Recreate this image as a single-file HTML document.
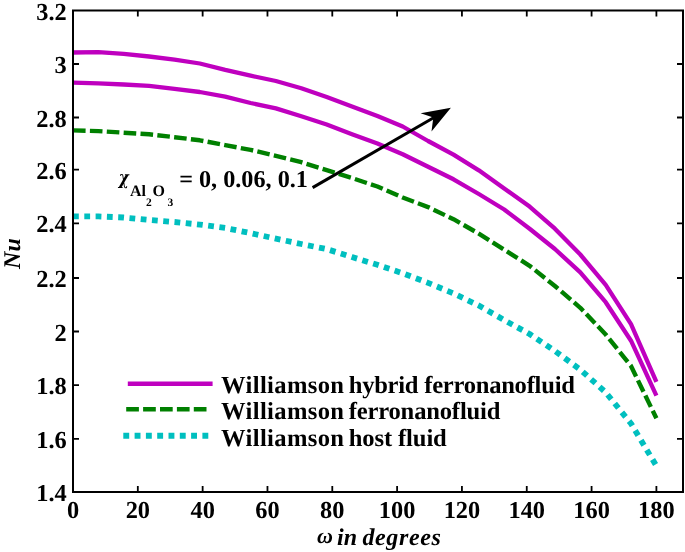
<!DOCTYPE html><html><head><meta charset="utf-8"><style>html,body{margin:0;padding:0;background:#fff;overflow:hidden}svg{display:block}text{text-rendering:geometricPrecision}</style></head><body>
<svg width="685" height="552" viewBox="0 0 685 552">
<rect width="685" height="552" fill="#fff"/>
<g fill="none" stroke-linejoin="round">
<polyline points="73.0,216.4 98.4,216.4 123.7,217.5 149.1,219.9 174.5,222.0 199.8,224.6 225.2,228.0 250.6,233.1 275.9,238.7 301.3,244.0 326.7,249.1 352.0,257.1 377.4,264.8 402.7,273.3 428.1,282.9 453.5,293.4 478.8,305.5 504.2,320.1 529.6,334.0 554.9,351.0 580.3,369.6 605.7,392.4 631.0,423.5 656.4,466.0" stroke="#00bfbf" stroke-width="5.8" stroke-dasharray="5.8 5.5"/>
<polyline points="73.0,130.4 98.4,131.1 123.7,132.7 149.1,134.3 174.5,137.2 199.8,140.3 225.2,145.1 250.6,149.9 275.9,155.8 301.3,162.2 326.7,170.2 352.0,178.0 377.4,186.5 402.7,197.5 428.1,207.1 453.5,219.2 478.8,233.6 504.2,249.7 529.6,265.8 554.9,286.0 580.3,307.8 605.7,334.5 631.0,366.0 656.4,418.3" stroke="#008000" stroke-width="4.4" stroke-dasharray="12.6 4.3"/>
<polyline points="73.0,82.6 98.4,83.4 123.7,84.5 149.1,85.8 174.5,88.8 199.8,92.0 225.2,96.6 250.6,103.0 275.9,108.4 301.3,116.2 326.7,124.5 352.0,134.2 377.4,143.6 402.7,154.2 428.1,166.7 453.5,179.3 478.8,194.0 504.2,209.5 529.6,228.8 554.9,249.0 580.3,272.4 605.7,302.2 631.0,340.7 656.4,395.6" stroke="#bf00bf" stroke-width="4.3"/>
<polyline points="73.0,52.5 98.4,52.2 123.7,53.8 149.1,56.5 174.5,59.6 199.8,63.5 225.2,69.9 250.6,75.7 275.9,81.0 301.3,88.3 326.7,97.0 352.0,106.4 377.4,116.0 402.7,126.5 428.1,141.0 453.5,154.6 478.8,170.3 504.2,188.5 529.6,206.6 554.9,228.7 580.3,254.5 605.7,284.8 631.0,324.2 656.4,381.8" stroke="#bf00bf" stroke-width="4.3"/>
</g>
<path d="M137.82,492.0V486.0M137.82,10.5V16.5M202.64,492.0V486.0M202.64,10.5V16.5M267.47,492.0V486.0M267.47,10.5V16.5M332.29,492.0V486.0M332.29,10.5V16.5M397.11,492.0V486.0M397.11,10.5V16.5M461.93,492.0V486.0M461.93,10.5V16.5M526.76,492.0V486.0M526.76,10.5V16.5M591.58,492.0V486.0M591.58,10.5V16.5M656.40,492.0V486.0M656.40,10.5V16.5M73.0,438.8H79.0M683.0,438.8H677.0M73.0,385.2H79.0M683.0,385.2H677.0M73.0,331.5H79.0M683.0,331.5H677.0M73.0,278.0H79.0M683.0,278.0H677.0M73.0,223.3H79.0M683.0,223.3H677.0M73.0,169.65H79.0M683.0,169.65H677.0M73.0,117.5H79.0M683.0,117.5H677.0M73.0,64.0H79.0M683.0,64.0H677.0" stroke="#000" stroke-width="1.8" fill="none"/>
<rect x="73.0" y="10.5" width="610.0" height="481.5" fill="none" stroke="#000" stroke-width="2"/>
<g font-family="Liberation Serif, Times New Roman, serif" font-weight="bold" font-size="24.4" fill="#000"><text transform="translate(73.00,517.9) scale(1,1.0)" text-anchor="middle">0</text><text transform="translate(137.82,517.9) scale(1,1.0)" text-anchor="middle">20</text><text transform="translate(202.64,517.9) scale(1,1.0)" text-anchor="middle">40</text><text transform="translate(267.47,517.9) scale(1,1.0)" text-anchor="middle">60</text><text transform="translate(332.29,517.9) scale(1,1.0)" text-anchor="middle">80</text><text transform="translate(397.11,517.9) scale(1,1.0)" text-anchor="middle">100</text><text transform="translate(461.93,517.9) scale(1,1.0)" text-anchor="middle">120</text><text transform="translate(526.76,517.9) scale(1,1.0)" text-anchor="middle">140</text><text transform="translate(591.58,517.9) scale(1,1.0)" text-anchor="middle">160</text><text transform="translate(656.40,517.9) scale(1,1.0)" text-anchor="middle">180</text><text transform="translate(66.8,501.1) scale(1,1.0)" text-anchor="end">1.4</text><text transform="translate(66.8,447.9) scale(1,1.0)" text-anchor="end">1.6</text><text transform="translate(66.8,394.3) scale(1,1.0)" text-anchor="end">1.8</text><text transform="translate(66.8,340.6) scale(1,1.0)" text-anchor="end">2</text><text transform="translate(66.8,287.1) scale(1,1.0)" text-anchor="end">2.2</text><text transform="translate(66.8,232.4) scale(1,1.0)" text-anchor="end">2.4</text><text transform="translate(66.8,178.8) scale(1,1.0)" text-anchor="end">2.6</text><text transform="translate(66.8,126.6) scale(1,1.0)" text-anchor="end">2.8</text><text transform="translate(66.8,73.1) scale(1,1.0)" text-anchor="end">3</text><text transform="translate(66.8,19.6) scale(1,1.0)" text-anchor="end">3.2</text></g>
<g font-family="Liberation Serif, Times New Roman, serif" font-weight="bold" font-style="italic" font-size="24"><text x="317" y="542.8" font-size="22">ω</text><text x="337" y="544.8">in</text><text x="362.5" y="544.8" textLength="78.3" lengthAdjust="spacing">degrees</text></g>
<text transform="translate(20,253.6) rotate(-90)" text-anchor="middle" font-family="Liberation Serif, Times New Roman, serif" font-weight="bold" font-style="italic" font-size="24">Nu</text>
<line x1="127.8" y1="383.8" x2="212.6" y2="383.8" stroke="#bf00bf" stroke-width="4.4"/>
<line x1="126.2" y1="409.3" x2="207.2" y2="409.3" stroke="#008000" stroke-width="4.5" stroke-dasharray="12.7 4.2"/>
<line x1="123.3" y1="435.8" x2="209" y2="435.8" stroke="#00bfbf" stroke-width="6" stroke-dasharray="5.9 5.4"/>
<g font-family="Liberation Serif, Times New Roman, serif" font-weight="bold" font-size="24.6" fill="#000" style="font-variant-ligatures:none"><text x="221" y="392.6" textLength="123.0" lengthAdjust="spacing">Williamson</text><text x="348.7" y="392.6" textLength="226.2" lengthAdjust="spacing">hybrid ferronanofluid</text><text x="221" y="419.3" textLength="123.0" lengthAdjust="spacing">Williamson</text><text x="348.7" y="419.3" textLength="151.7" lengthAdjust="spacing">ferronanofluid</text><text x="221" y="446.3" textLength="123.0" lengthAdjust="spacing">Williamson</text><text x="348.7" y="446.3" textLength="98.1" lengthAdjust="spacing">host fluid</text></g>
<g font-family="Liberation Serif, Times New Roman, serif" font-weight="bold" fill="#000"><text transform="translate(118.8,184.3) scale(0.8,1)" font-family="DejaVu Serif, serif" font-weight="bold" font-style="italic" font-size="19">χ</text><text x="130" y="195.7" font-size="16">Al</text><text x="146" y="205.9" font-size="11.5">2</text><text x="152.5" y="195.7" font-size="16">O</text><text x="167.5" y="205.9" font-size="11.5">3</text><text transform="translate(179.2,187.4)" font-size="24.2">= 0, 0.06, 0.1</text></g>
<line x1="312.6" y1="187.6" x2="434" y2="117.5" stroke="#000" stroke-width="3"/>
<polygon points="450.9,107.7 420.6,113.3 433.3,117.6 431.5,131.4" fill="#000"/>
</svg></body></html>
